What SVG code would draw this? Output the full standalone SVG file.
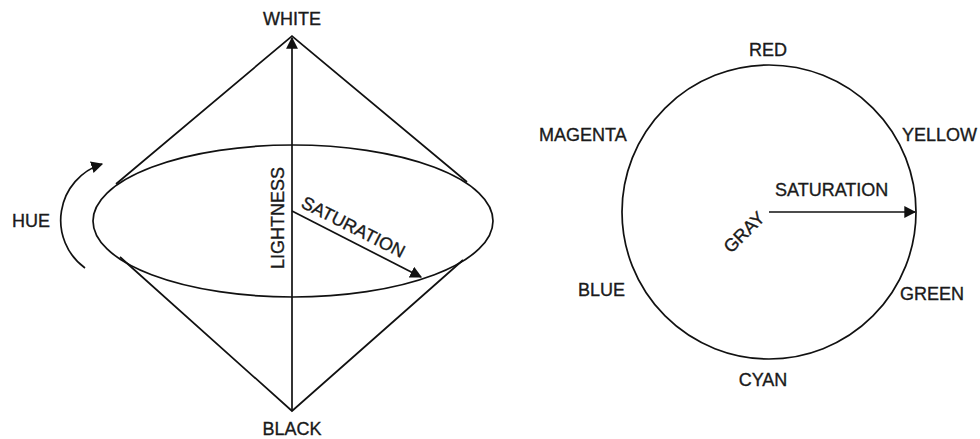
<svg xmlns="http://www.w3.org/2000/svg" width="980" height="439" viewBox="0 0 980 439">
  <style>
    .ln { fill: none; stroke: #111; stroke-width: 1.7; }
    .lbl { font-family: "Liberation Sans", Arial, sans-serif; font-size: 18px; fill: #1a1a1a; stroke: #1a1a1a; stroke-width: 0.35; }
    .mid { text-anchor: middle; }
  </style>
  <defs>
    <marker id="arrow" viewBox="0 0 10 10" refX="9" refY="5" markerWidth="7" markerHeight="7" markerUnits="strokeWidth" orient="auto">
      <path d="M0,0 L10,5 L0,10 Z" fill="#111"/>
    </marker>
  </defs>
  <rect width="980" height="439" fill="#fff"/>

  <g id="double-cone">
    <ellipse class="ln" cx="293" cy="221" rx="200" ry="76"/>
    <polyline class="ln" points="116,184 292,36 467,182"/>
    <polyline class="ln" points="120,257 292,411 463,260"/>
  </g>

  <g id="hue-circle">
    <circle class="ln" cx="769" cy="212" r="147"/>
  </g>

  <g id="connectors">
    <line class="ln" x1="292" y1="411" x2="292" y2="38" marker-end="url(#arrow)"/>
    <line class="ln" x1="292" y1="211" x2="421" y2="277" marker-end="url(#arrow)"/>
    <path class="ln" d="M85,268 A59,59 0 0 1 102,164" marker-end="url(#arrow)"/>
    <line class="ln" x1="769" y1="212" x2="915" y2="212" marker-end="url(#arrow)"/>
  </g>

  <g id="labels-left">
    <text class="lbl mid" x="292" y="25">WHITE</text>
    <text class="lbl mid" x="292" y="435">BLACK</text>
    <text class="lbl" x="12" y="227">HUE</text>
    <text class="lbl mid" transform="translate(283.5,218) rotate(-90)">LIGHTNESS</text>
    <text class="lbl mid" transform="translate(350.5,232.5) rotate(27)">SATURATION</text>
  </g>

  <g id="labels-right">
    <text class="lbl mid" x="768" y="56">RED</text>
    <text class="lbl" x="539" y="141">MAGENTA</text>
    <text class="lbl" x="902" y="141">YELLOW</text>
    <text class="lbl" x="775" y="196">SATURATION</text>
    <text class="lbl mid" transform="translate(748.5,236.5) rotate(-45)">GRAY</text>
    <text class="lbl" x="578" y="296">BLUE</text>
    <text class="lbl" x="900" y="300">GREEN</text>
    <text class="lbl mid" x="763" y="386">CYAN</text>
  </g>
</svg>
